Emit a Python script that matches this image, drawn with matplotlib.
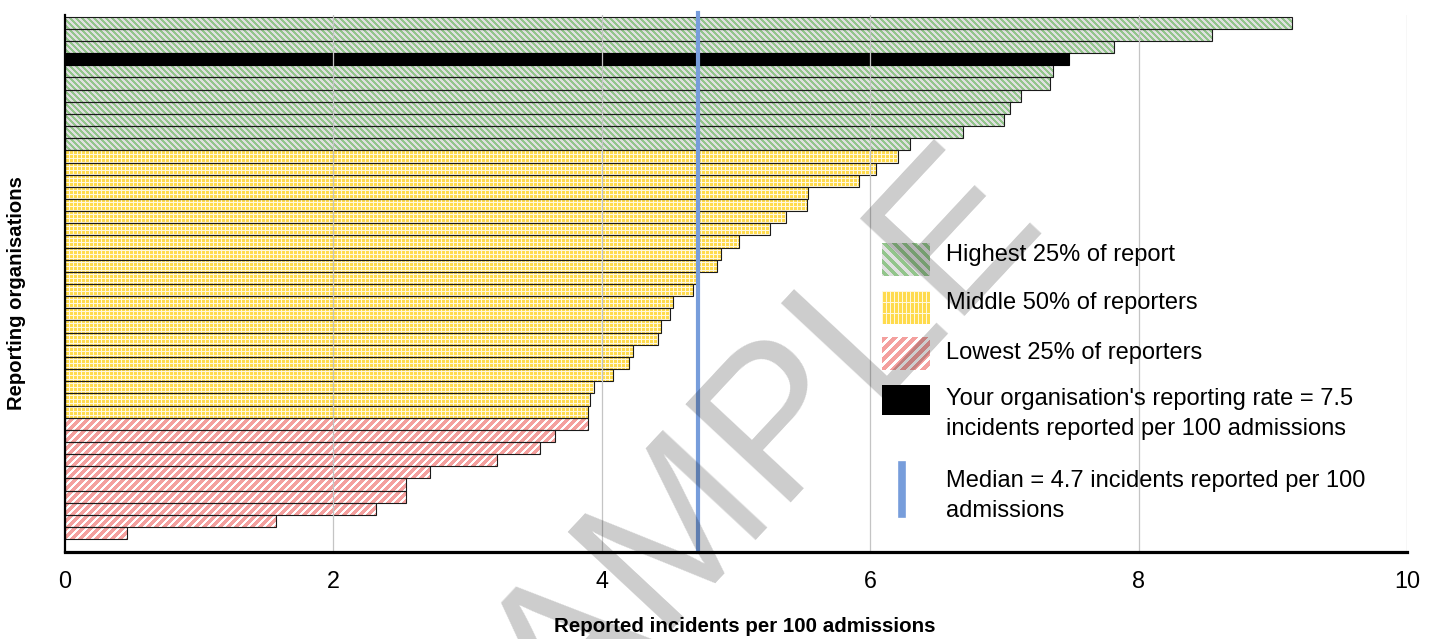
import numpy as np
import matplotlib
matplotlib.use("Agg")
import matplotlib.pyplot as plt
from matplotlib.colors import to_rgb
from matplotlib.lines import Line2D
from matplotlib.patches import PathPatch, Rectangle
from matplotlib.path import Path

plt.rcParams['font.family'] = ['Liberation Sans', 'DejaVu Sans']

# Reported incidents per 100 admissions, one value per organisation (sorted high -> low)
highest = [9.14, 8.55, 7.82, 7.48, 7.36, 7.34, 7.12, 7.04, 7.00, 6.69, 6.30]
middle = [6.21, 6.04, 5.92, 5.54, 5.53, 5.37, 5.25, 5.02, 4.89, 4.86, 4.72,
          4.68, 4.53, 4.51, 4.44, 4.42, 4.23, 4.20, 4.08, 3.94, 3.91, 3.90]
lowest = [3.90, 3.65, 3.54, 3.22, 2.72, 2.54, 2.54, 2.32, 1.57, 0.46]
your_rate = 7.48

x_ticks = [0, 2, 4, 6, 8, 10]
x_label = "Reported incidents per 100 admissions"
y_label = "Reporting organisations"
legend_labels = ["Highest 25% of report", "Middle 50% of reporters", "Lowest 25% of reporters"]

all_rates = highest + middle + lowest
median_rate = float(np.median(all_rates))

W, H = 1436, 639
fig = plt.figure(figsize=(W / 100, H / 100), dpi=100)


def fx(x):
    return x / W


def fy(y):
    return 1 - y / H


# ---- fill textures (pixel patterns) ----
def stripes(h, w, period, width, fg, bg, slope):
    yy, xx = np.mgrid[0:h, 0:w]
    coord = (xx - yy) if slope == 'down' else (xx + yy)
    mask = (coord % period) < width
    return np.where(mask[..., None], np.array(to_rgb(fg)), np.array(to_rgb(bg)))


def grid(h, w, px, py, fg, bg):
    yy, xx = np.mgrid[0:h, 0:w]
    mask = (xx % px == 0) | (yy % py == 0)
    return np.where(mask[..., None], np.array(to_rgb(fg)), np.array(to_rgb(bg)))


GREEN, GREY = '#93c58c', '#e0e0e0'
YELLOW, YELLOW_LINE = '#ffdb4d', '#fff8de'
PINK, WHITE = '#f4a09e', '#ffffff'
BLUE = '#779ddb'

ax_left, ax_right, ax_top, ax_bottom = 65, 1407, 15, 551.5
ax = fig.add_axes([fx(ax_left), fy(ax_bottom), fx(ax_right) - fx(ax_left),
                   fy(ax_top) - fy(ax_bottom)])

xlim = (0, 10)
ylim = (len(all_rates) - 0.5 + 1.01, -0.64)
aw, ah = int(round(ax_right - ax_left)), int(round(ax_bottom - ax_top))

textures = {
    'high': stripes(ah, aw, 6, 3, GREEN, GREY, 'down'),
    'mid': grid(ah, aw, 4, 4, YELLOW_LINE, YELLOW),
    'low': stripes(ah, aw, 8, 5, PINK, WHITE, 'up'),
}


def textured_bars(ypos, vals, key):
    bars = ax.barh(ypos, vals, height=1.0, facecolor='none',
                   edgecolor='#1a1a1a', linewidth=0.8, zorder=2)
    paths = [b.get_patch_transform().transform_path(b.get_path()) for b in bars]
    clip = PathPatch(Path.make_compound_path(*paths), transform=ax.transData)
    im = ax.imshow(textures[key], extent=(xlim[0], xlim[1], ylim[0], ylim[1]),
                   origin='upper', aspect='auto', interpolation='nearest', zorder=1)
    im.set_clip_path(clip)


n_high, n_mid = len(highest), len(middle)
pos_high = np.arange(n_high)
pos_mid = np.arange(n_mid) + n_high
pos_low = np.arange(len(lowest)) + n_high + n_mid

high_arr = np.array(highest)
is_you = np.isclose(high_arr, your_rate)
textured_bars(pos_high[~is_you], high_arr[~is_you], 'high')
ax.barh(pos_high[is_you], high_arr[is_you], height=1.0, color='black',
        edgecolor='black', linewidth=0.8, zorder=2)
textured_bars(pos_mid, middle, 'mid')
textured_bars(pos_low, lowest, 'low')

ax.set_xlim(*xlim)
ax.set_ylim(*ylim)
ax.set_xticks(x_ticks)
ax.set_xticklabels([str(t) for t in x_ticks])
ax.set_yticks([])
ax.tick_params(axis='x', length=0, pad=13, labelsize=16.8)

for t in x_ticks[1:]:
    ax.axvline(t, color='#c4c4c4', linewidth=0.9, zorder=3)

ax.axvline(median_rate, ymin=0, ymax=1.004, color=BLUE, linewidth=3.0,
           zorder=4, clip_on=False)

for side in ('top', 'right'):
    ax.spines[side].set_visible(False)
ax.spines['left'].set_linewidth(1.6)
ax.spines['bottom'].set_linewidth(2.3)
ax.spines['left'].set_zorder(5)
ax.spines['bottom'].set_zorder(5)

fig.text(fx(745), fy(627), x_label, ha='center', va='center',
         fontsize=14.8, fontweight='bold')
fig.text(fx(17), fy(293), y_label, ha='center', va='center', rotation=90,
         fontsize=14.6, fontweight='bold')

# ---- legend, laid out in figure pixels ----
handle_x, handle_w, handle_h = 882, 48, 33
text_x = 946
swatches = [
    (243, stripes(handle_h, handle_w, 10, 5, GREEN, GREY, 'down')),
    (291, grid(handle_h, handle_w, 4, 11, YELLOW_LINE, YELLOW)),
    (337, stripes(handle_h, handle_w, 10, 6, PINK, WHITE, 'up')),
]
for top, tex in swatches:
    sw = fig.add_axes([fx(handle_x), fy(top + handle_h), fx(handle_w), handle_h / H])
    sw.imshow(tex, aspect='auto', interpolation='nearest')
    sw.set_axis_off()
fig.add_artist(Rectangle((fx(handle_x), fy(415)), fx(handle_w), 30 / H,
                         transform=fig.transFigure, facecolor='black',
                         edgecolor='none'))
fig.add_artist(Line2D([fx(902), fx(902)], [fy(465), fy(514)],
                      transform=fig.transFigure, color=BLUE, linewidth=5.5))

leg_fs = 17
fig.text(fx(text_x), fy(255), legend_labels[0], fontsize=leg_fs, va='center')
fig.text(fx(text_x), fy(303), legend_labels[1], fontsize=leg_fs, va='center')
fig.text(fx(text_x), fy(353), legend_labels[2], fontsize=leg_fs, va='center')
fig.text(fx(text_x), fy(399),
         f"Your organisation's reporting rate = {your_rate:.1f}",
         fontsize=leg_fs, va='center')
fig.text(fx(text_x), fy(429), "incidents reported per 100 admissions",
         fontsize=leg_fs, va='center')
fig.text(fx(text_x), fy(481),
         f"Median = {median_rate:.1f} incidents reported per 100",
         fontsize=leg_fs, va='center')
fig.text(fx(text_x), fy(511), "admissions", fontsize=leg_fs, va='center')

# Watermark
fig.text(fx(718), fy(492), "SAMPLE", fontsize=150, rotation=47,
         rotation_mode='anchor', ha='center', va='center',
         color=(0, 0, 0, 0.2), zorder=20)

fig.savefig("out.png", dpi=100)
